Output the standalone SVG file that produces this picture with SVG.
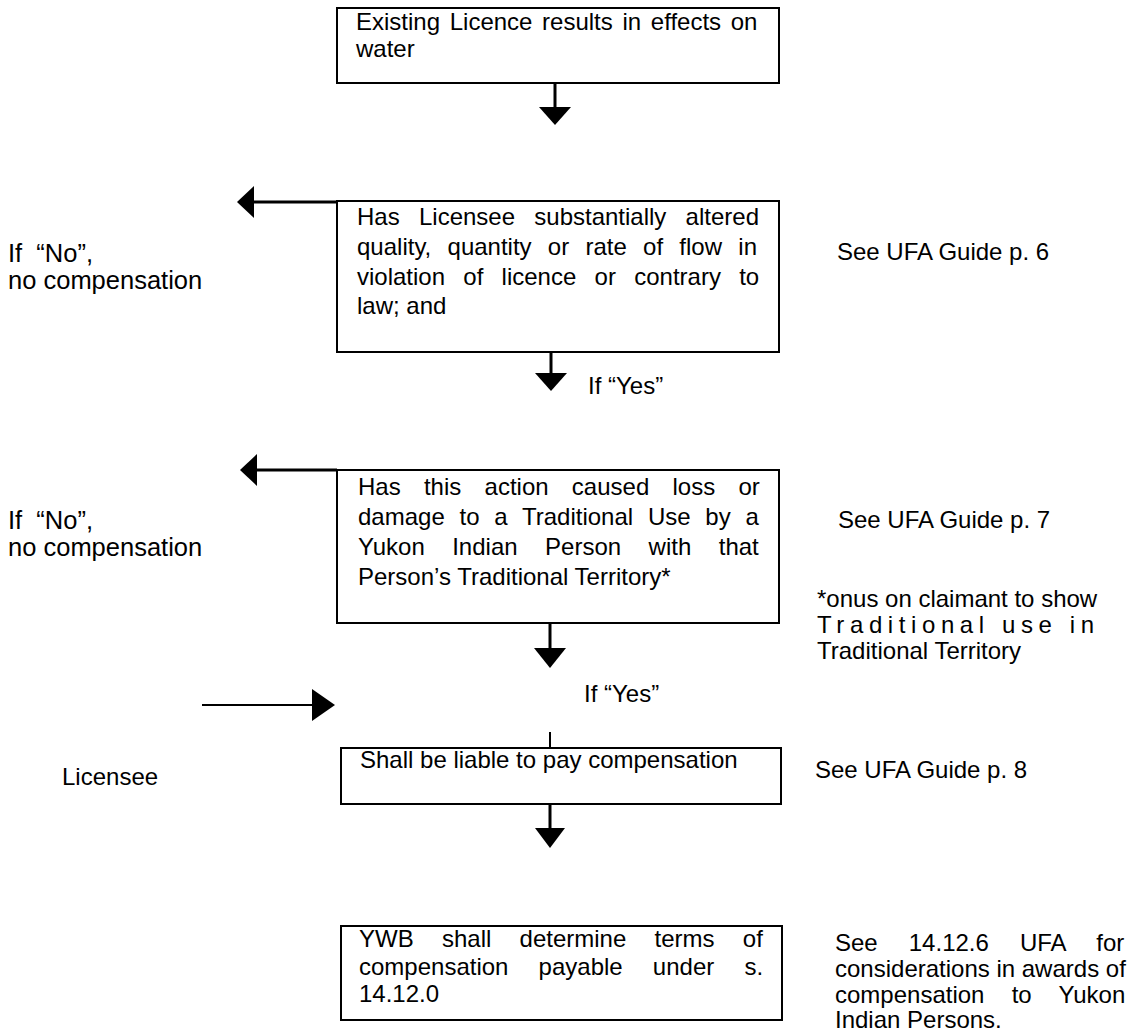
<svg xmlns="http://www.w3.org/2000/svg" width="1136" height="1033" viewBox="0 0 1136 1033">
<style>
text{font-family:"Liberation Sans",Arial,sans-serif;font-size:24px;fill:#000}
.big{font-size:25.5px}
.box{fill:#fff;stroke:#000;stroke-width:2}
.ln{stroke:#000;stroke-width:3;fill:none}
.thin{stroke:#000;stroke-width:2;fill:none}
.head{fill:#000}
</style>
<rect width="1136" height="1033" fill="#fff"/>
<g id="connectors">
<line class="ln" x1="555" y1="83" x2="555" y2="108"/><polygon class="head" points="539,107 571,107 555,125"/>
<line class="ln" x1="337" y1="202" x2="252" y2="202"/><polygon class="head" points="237,202 254,186 254,218"/>
<line class="ln" x1="551" y1="352" x2="551" y2="374"/><polygon class="head" points="535,373 567,373 551,391"/>
<line class="ln" x1="337" y1="470" x2="255" y2="470"/><polygon class="head" points="240,470 257,454 257,486"/>
<line class="ln" x1="550" y1="623" x2="550" y2="649"/><polygon class="head" points="534,648 566,648 550,668"/>
<line class="thin" x1="202" y1="705" x2="314" y2="705"/><polygon class="head" points="335,705 312,689 312,721"/>
<line class="thin" x1="550" y1="732" x2="550" y2="748"/>
<line class="ln" x1="550" y1="804" x2="550" y2="829"/><polygon class="head" points="535,828 565,828 550,848"/>
</g>
<g id="n1">
<rect class="box" x="337" y="8" width="442" height="75"/>
<text x="356" y="30" word-spacing="3">Existing Licence results in effects on</text>
<text x="356" y="57">water</text>
</g>
<g id="n2">
<rect class="box" x="337" y="201" width="442" height="151"/>
<text x="357" y="225" word-spacing="12.6">Has Licensee substantially altered</text>
<text x="357" y="255" word-spacing="9.6">quality, quantity or rate of flow in</text>
<text x="357" y="285" word-spacing="11.6">violation of licence or contrary to</text>
<text x="357" y="314">law; and</text>
</g>
<g id="no1">
<text class="big" x="8" y="262" xml:space="preserve">If  “No”,</text>
<text class="big" x="8" y="289">no compensation</text>
</g>
<g id="ref6"><text x="837" y="260">See UFA Guide p. 6</text></g>
<g id="yes1"><text x="588" y="394">If “Yes”</text></g>
<g id="n3">
<rect class="box" x="337" y="470" width="442" height="153"/>
<text x="358" y="495" word-spacing="16.6">Has this action caused loss or</text>
<text x="358" y="525" word-spacing="8.1">damage to a Traditional Use by a</text>
<text x="358" y="555" word-spacing="20.8">Yukon Indian Person with that</text>
<text x="358" y="585">Person’s Traditional Territory*</text>
</g>
<g id="no2">
<text class="big" x="8" y="529" xml:space="preserve">If  “No”,</text>
<text class="big" x="8" y="556">no compensation</text>
</g>
<g id="ref7"><text x="838" y="528">See UFA Guide p. 7</text></g>
<g id="onus">
<text x="817" y="607">*onus on claimant to show</text>
<text x="817" y="633" textLength="277" lengthAdjust="spacing">Traditional use in</text>
<text x="817" y="659">Traditional Territory</text>
</g>
<g id="yes2"><text x="584" y="702">If “Yes”</text></g>
<g id="n4">
<rect class="box" x="341" y="748" width="440" height="56"/>
<text x="360" y="768">Shall be liable to pay compensation</text>
</g>
<g id="licensee"><text x="62" y="785">Licensee</text></g>
<g id="ref8"><text x="815" y="778">See UFA Guide p. 8</text></g>
<g id="n5">
<rect class="box" x="341" y="926" width="441" height="94"/>
<text x="359" y="947" word-spacing="21.6">YWB shall determine terms of</text>
<text x="359" y="975" word-spacing="23.5">compensation payable under s.</text>
<text x="359" y="1002">14.12.0</text>
</g>
<g id="ref1412">
<text x="835" y="951" word-spacing="24.4">See 14.12.6 UFA for</text>
<text x="835" y="977">considerations in awards of</text>
<text x="835" y="1003" word-spacing="20.6">compensation to Yukon</text>
<text x="835" y="1028">Indian Persons.</text>
</g>
</svg>
